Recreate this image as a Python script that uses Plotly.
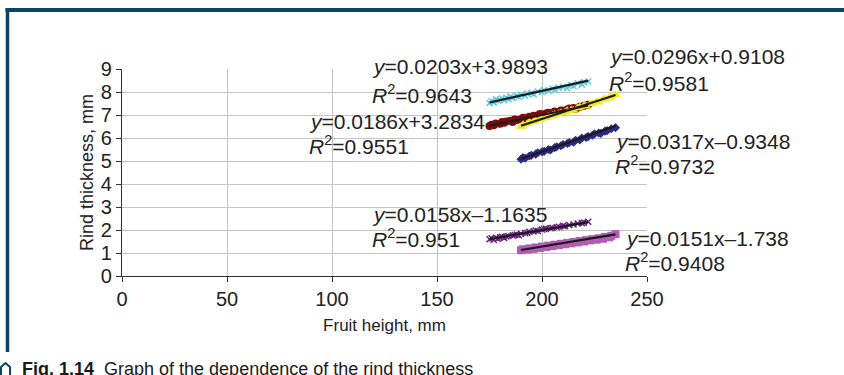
import plotly.graph_objects as go

# ---------------- data ----------------
cyan_x = [175,176,177,178,179,180,181,182,183,184,185,186,188,189,190,192,193,195,196,198,200,201,203,205,206,208,210,212,214,215,217,219,220,222]
cyan_y = [7.52,7.60,7.55,7.68,7.62,7.66,7.72,7.64,7.75,7.70,7.80,7.74,7.83,7.79,7.88,7.84,7.93,7.95,7.90,8.02,8.00,8.08,8.05,8.14,8.10,8.18,8.22,8.16,8.30,8.26,8.38,8.32,8.42,8.46]

red_x = [175,176,177,178,180,181,182,183,185,186,187,188,190,191,192,194,195,196,198,199,200,202,203,205,206,208,209,210,212,213,215,216,218,220,222]
red_y = [6.52,6.58,6.55,6.63,6.62,6.70,6.66,6.72,6.75,6.70,6.80,6.78,6.82,6.88,6.85,6.92,6.90,6.97,6.98,7.04,7.02,7.06,7.10,7.08,7.15,7.12,7.20,7.18,7.24,7.28,7.30,7.26,7.36,7.40,7.45]

yellow_x = [190,191,193,194,196,197,199,200,202,203,205,206,208,209,211,212,214,215,217,218,220,221,223,224,226,227,229,230,232,233,235]
yellow_y = [6.50,6.58,6.62,6.70,6.72,6.76,6.82,6.86,6.88,6.93,6.98,7.02,7.05,7.09,7.12,7.18,7.22,7.20,7.30,7.35,7.40,7.38,7.48,7.50,7.58,7.55,7.68,7.70,7.76,7.80,7.88]

navy_x = [190,191,192,194,195,197,198,200,201,203,204,206,207,209,210,212,213,215,216,218,219,221,222,224,225,227,228,230,231,233,235]
navy_y = [5.08,5.15,5.12,5.22,5.25,5.30,5.36,5.40,5.42,5.50,5.48,5.58,5.62,5.66,5.72,5.76,5.80,5.82,5.90,5.92,6.00,6.02,6.06,6.12,6.18,6.22,6.20,6.30,6.32,6.40,6.45]

purple_x = [175,176,177,178,179,180,181,182,183,184,186,187,188,189,190,192,193,194,196,197,198,200,201,202,204,205,207,208,210,211,213,215,217,219,220,222]
purple_y = [1.60,1.64,1.58,1.66,1.62,1.68,1.70,1.65,1.72,1.74,1.76,1.78,1.80,1.77,1.84,1.86,1.88,1.92,1.94,1.98,1.96,2.02,2.04,2.06,2.08,2.10,2.12,2.14,2.18,2.16,2.22,2.24,2.28,2.30,2.32,2.36]

pink_x = [190,191,193,194,196,197,199,200,202,203,205,206,208,209,211,212,214,215,217,218,220,221,223,224,226,227,229,230,232,233,235]
pink_y = [1.12,1.16,1.15,1.20,1.18,1.24,1.22,1.28,1.26,1.32,1.30,1.36,1.34,1.40,1.38,1.44,1.42,1.48,1.46,1.52,1.50,1.56,1.55,1.60,1.58,1.64,1.62,1.70,1.68,1.75,1.82]

# trend-line coefficients as printed on the chart
slopes = [0.0203, 0.0186, 0.0296, 0.0317, 0.0158, 0.0151]
intercepts = [3.9893, 3.2834, 0.9108, -0.9348, -1.1635, -1.738]
eq_labels = ["0.0203x+3.9893", "0.0186x+3.2834", "0.0296x+0.9108",
             "0.0317x\u20130.9348", "0.0158x\u20131.1635", "0.0151x\u20131.738"]
r2_labels = ["0.9643", "0.9551", "0.9581", "0.9732", "0.951", "0.9408"]

x_ticks = [0, 50, 100, 150, 200, 250]
y_ticks = [0, 1, 2, 3, 4, 5, 6, 7, 8, 9]

series = [
    (cyan_x, cyan_y, "#5ccbe0", "x-thin", 6),
    (red_x, red_y, "#7e0a0a", "circle", 8),
    (yellow_x, yellow_y, "#f2ea12", "triangle-up", 9),
    (navy_x, navy_y, "#2a2a86", "diamond", 7),
    (purple_x, purple_y, "#6e2080", "x-thin", 6),
    (pink_x, pink_y, "#b25cb2", "square", 8),
]

FONT = "Liberation Sans, Arial, sans-serif"
FRAME = "#0d4466"

fig = go.Figure()
for xs, ys, col, sym, sz in series:
    mk = dict(color=col, symbol=sym, size=sz)
    if sym == "x-thin":
        mk["line"] = dict(color=col, width=1.5)
    fig.add_trace(go.Scatter(x=xs, y=ys, mode="markers", marker=mk,
                             showlegend=False, hoverinfo="skip"))
for (xs, ys, col, sym, sz), a, b in zip(series, slopes, intercepts):
    x0, x1 = min(xs), max(xs)
    fig.add_trace(go.Scatter(x=[x0, x1], y=[a * x0 + b, a * x1 + b], mode="lines",
                             line=dict(color="#1a1a1a", width=2.2),
                             showlegend=False, hoverinfo="skip"))

# pixel helpers for annotation placement
L, R, T, B = 122, 647, 69, 276
def px(xp):
    return (xp - L) / (R - L)
def py(yp):
    return (B - yp) / (B - T)

label_pos = [  # (left px, eq-line centre px, r2-line centre px)
    (370, 67, 94),
    (307, 121, 145),
    (607, 57, 82),
    (613, 141, 165),
    (370, 214, 238),
    (623, 238, 262),
]
ann_font = dict(family=FONT, size=21, color="#222222")
for (lx, ey, ry), eq, r2 in zip(label_pos, eq_labels, r2_labels):
    fig.add_annotation(x=px(lx), y=py(ey), xref="paper", yref="paper",
                       text="<i>y</i>=" + eq, showarrow=False,
                       xanchor="left", yanchor="middle", font=ann_font)
    fig.add_annotation(x=px(lx), y=py(ry), xref="paper", yref="paper",
                       text="<i>R</i><sup>2</sup>=" + r2, showarrow=False,
                       xanchor="left", yanchor="middle", font=ann_font)

# caption (cut at the bottom edge, as in the source page)
fig.add_annotation(x=px(20), y=py(357), xref="paper", yref="paper",
                   text="<b>Fig. 1.14</b>  Graph of the dependence of the rind thickness",
                   showarrow=False, xanchor="left", yanchor="top",
                   font=dict(family=FONT, size=18, color="#1a1a1a"))

# frame lines
fig.add_shape(type="line", xref="paper", yref="paper", x0=px(5.5), x1=px(850),
              y0=py(10), y1=py(10), line=dict(color=FRAME, width=4))
fig.add_shape(type="line", xref="paper", yref="paper", x0=px(7.5), x1=px(7.5),
              y0=py(8), y1=py(352), line=dict(color=FRAME, width=3.5))
# small hexagon icon near caption
hx = [px(v) for v in (1, 5.5, 10, 10, 1)]
hy = [py(v) for v in (367, 363, 367, 378, 378)]
path = "M {} {} L {} {} L {} {} L {} {} L {} {} Z".format(
    hx[0], hy[0], hx[1], hy[1], hx[2], hy[2], hx[3], hy[3], hx[4], hy[4])
fig.add_shape(type="path", xref="paper", yref="paper", path=path,
              line=dict(color=FRAME, width=2))

axis_common = dict(showline=True, linecolor="#333333", linewidth=1.2,
                   showgrid=True, gridcolor="#c4c4c4", gridwidth=1,
                   ticks="outside", ticklen=5, tickcolor="#333333",
                   zeroline=False,
                   tickfont=dict(family=FONT, size=20, color="#222222"))

fig.update_layout(
    width=844, height=375, autosize=False,
    margin=dict(l=L, r=844 - R, t=T, b=375 - B),
    paper_bgcolor="white", plot_bgcolor="white",
    xaxis=dict(range=[0, 250], tickvals=x_ticks,
               title=dict(text="Fruit height, mm", standoff=10,
                          font=dict(family=FONT, size=17, color="#222222")),
               **axis_common),
    yaxis=dict(range=[0, 9], tickvals=y_ticks,
               title=dict(text="Rind thickness, mm", standoff=2,
                          font=dict(family=FONT, size=18, color="#222222")),
               **axis_common),
)

fig.write_html("out.html", config={"displayModeBar": False},
               post_script="document.body.style.margin='0px';document.body.style.overflow='hidden';")
